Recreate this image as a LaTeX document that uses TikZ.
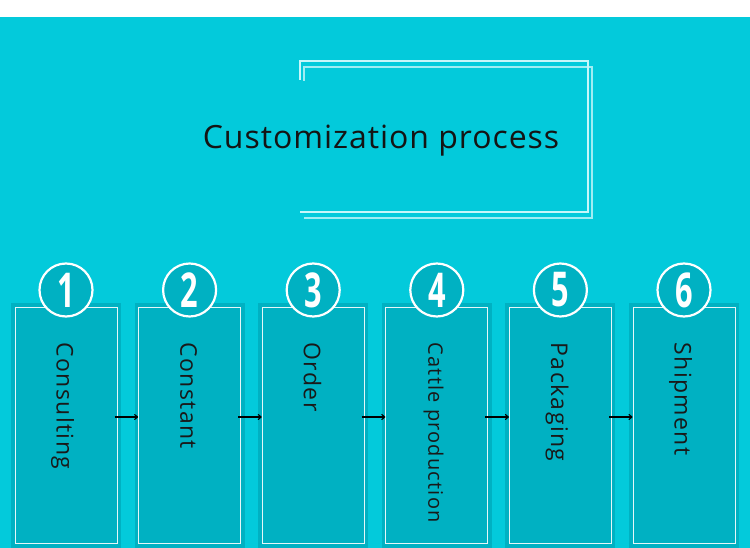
\documentclass[tikz,border=0pt]{standalone}
\usepackage{fontspec}
\setmainfont{Open Sans}
\usetikzlibrary{arrows.meta}
\definecolor{bgcyan}{HTML}{03CADB}
\definecolor{boxcyan}{HTML}{00B1C2}
\definecolor{framewhite}{HTML}{C8F6FA}
\tikzset{
  innerbox/.style={draw=white!90!boxcyan, line width=1pt, minimum width=102pt, minimum height=236pt, inner sep=0pt},
  numcircle/.style={circle, draw=white, line width=2.2pt, fill=boxcyan, minimum size=53pt, inner sep=0pt},
  numtext/.style={text=white, font=\fontsize{48}{48}\selectfont\bfseries, xscale=0.64, inner sep=0pt},
  steplabel/.style={rotate=-90, anchor=base west, inner sep=0pt, text=black!90},
  labelfont/.style={font=\fontsize{23}{23}\selectfont\addfontfeature{LetterSpace=6}},
  smalllabelfont/.style={font=\fontsize{20}{20}\selectfont\addfontfeature{LetterSpace=6}},
  flowarrow/.style={-{To[length=4pt,width=6pt]}, line width=1.1pt, black},
  titleframe/.style={draw=framewhite, line width=1.5pt}
}
\begin{document}
\begin{tikzpicture}[x=1pt,y=-1pt]
\useasboundingbox (0,0) rectangle (750,548);
\fill[white] (0,0) rectangle (750,548);
\fill[bgcyan] (0,17) rectangle (750,548);
% title frame
\draw[titleframe] (300,80) -- (300,61) -- (588,61) -- (588,212) -- (300,212);
\draw[titleframe, draw opacity=0.8] (304,81) -- (304,67) -- (592,67) -- (592,218) -- (304,218);
\node[anchor=center, font=\fontsize{32}{32}\selectfont\addfontfeature{LetterSpace=3}, text=black!92] (title) at (381,141) {Customization process};
% steps
\foreach \i/\cx/\lab/\sty/\off in {1/66/Consulting/labelfont/9.3,2/189.6/Constant/labelfont/9.3,3/313.2/Order/labelfont/9.3,4/436.8/Cattle production/smalllabelfont/8.5,5/560.4/Packaging/labelfont/9.3,6/684/Shipment/labelfont/9.3}{
  \fill[boxcyan] (\cx-55,303) rectangle (\cx+55,548);
  \node[innerbox] (b\i) at (\cx,425) {};
  \node[steplabel, \sty] (t\i) at (\cx-\off,342.5) {\lab};
  \node[numcircle] (c\i) at (\cx,290) {};
  \node[numtext] (n\i) at (\cx,290) {\i};
}
\foreach \a/\b in {1/2,2/3,3/4,4/5,5/6}{
  \draw[flowarrow] ([yshift=8pt,xshift=-3pt]b\a.east) -- ([yshift=8pt]b\b.west);
}
\end{tikzpicture}
\end{document}
